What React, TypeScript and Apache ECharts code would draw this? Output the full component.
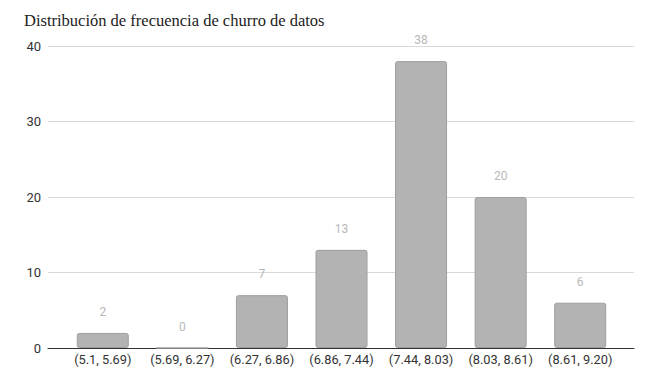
import React, { useEffect, useRef } from "react";
import * as echarts from "echarts";

const categories = [
  "(5.1, 5.69)",
  "(5.69, 6.27)",
  "(6.27, 6.86)",
  "(6.86, 7.44)",
  "(7.44, 8.03)",
  "(8.03, 8.61)",
  "(8.61, 9.20)",
];
const counts = [2, 0, 7, 13, 38, 20, 6];
const yTicks = { min: 0, max: 40, interval: 10 };
const title = "Distribución de frecuencia de churro de datos";

export default function App() {
  const ref = useRef<HTMLDivElement>(null);
  useEffect(() => {
    document.body.style.margin = "0";
    const chart = echarts.init(ref.current!, undefined, { renderer: "svg" });
    chart.setOption({
      animation: false,
      backgroundColor: "#ffffff",
      title: {
        text: title,
        left: 19,
        top: 7,
        textStyle: {
          fontFamily: "Liberation Serif",
          fontSize: 16.5,
          fontWeight: "normal",
          color: "#222222",
        },
      },
      grid: [
        { left: 48, right: 24, top: 46, bottom: 34 },
        { left: 63, right: 38, top: 46, bottom: 34 },
      ],
      xAxis: [
        {
          gridIndex: 0,
          type: "category",
          data: categories,
          axisLine: { show: true, lineStyle: { color: "#333333", width: 1 } },
          axisTick: { show: false },
          axisLabel: { show: false },
        },
        {
          gridIndex: 1,
          type: "category",
          data: categories,
          axisLine: { show: false },
          axisTick: { show: false },
          axisLabel: {
            interval: 0,
            hideOverlap: false,
            margin: 5,
            color: "#333333",
            fontSize: 12.8,
            fontFamily: "Roboto",
          },
        },
      ],
      yAxis: [
        {
          gridIndex: 0,
          type: "value",
          min: yTicks.min,
          max: yTicks.max,
          interval: yTicks.interval,
          axisLine: { show: false },
          axisTick: { show: false },
          axisLabel: {
            margin: 7,
            color: "#333333",
            fontSize: 13,
            fontFamily: "Roboto",
          },
          splitLine: { lineStyle: { color: "#d9d9d9", width: 1 } },
        },
        {
          gridIndex: 1,
          type: "value",
          min: yTicks.min,
          max: yTicks.max,
          interval: yTicks.interval,
          show: false,
          splitLine: { show: false },
        },
      ],
      series: [
        {
          type: "bar",
          xAxisIndex: 1,
          yAxisIndex: 1,
          data: counts,
          barWidth: 52,
          itemStyle: {
            color: "#b3b3b3",
            borderColor: "#9e9e9e",
            borderWidth: 1,
            borderRadius: 2,
          },
          label: {
            show: true,
            position: "top",
            distance: 15,
            color: "#b8b8b8",
            fontSize: 12,
            fontFamily: "Roboto",
          },
        },
      ],
    });
    return () => chart.dispose();
  }, []);
  return <div ref={ref} style={{ width: 658, height: 382 }} />;
}
